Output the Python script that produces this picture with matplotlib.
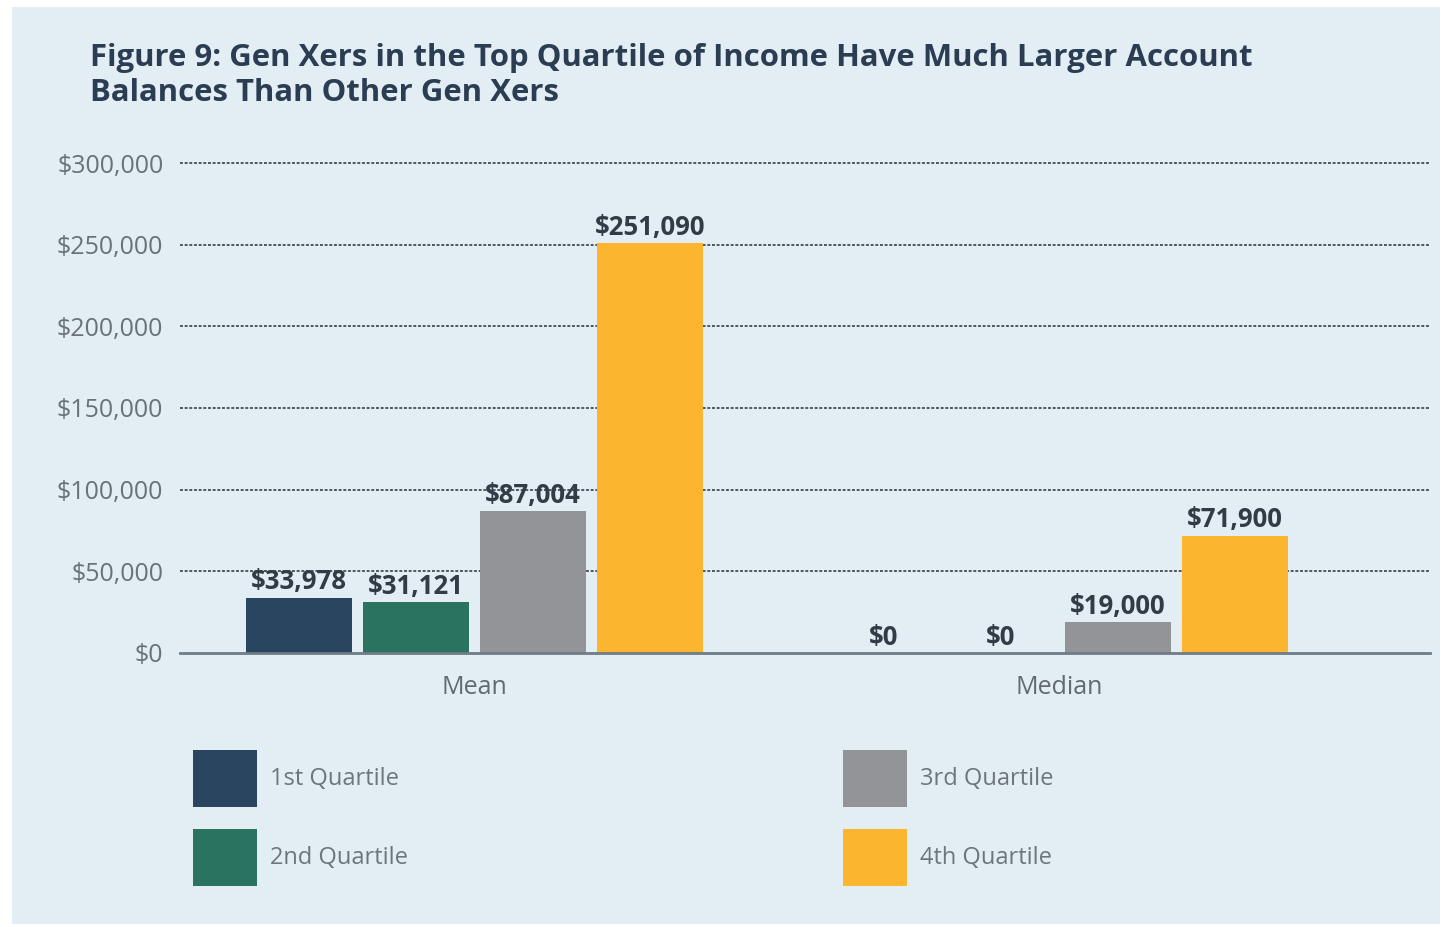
import matplotlib
matplotlib.use("Agg")
import matplotlib.pyplot as plt
from matplotlib.patches import Rectangle
from matplotlib.ticker import FuncFormatter
import numpy as np

# Data
groups = ["Mean", "Median"]
series = ["1st Quartile", "2nd Quartile", "3rd Quartile", "4th Quartile"]
q1 = [33978, 0]
q2 = [31121, 0]
q3 = [87004, 19000]
q4 = [251090, 71900]
y_ticks = [0, 50000, 100000, 150000, 200000, 250000, 300000]

colors = ["#2a4560", "#2a7361", "#929497", "#fbb52f"]
values = [q1, q2, q3, q4]

plt.rcParams["font.family"] = ["Open Sans", "DejaVu Sans"]

W, H = 1445, 927
fig = plt.figure(figsize=(W / 100, H / 100), dpi=100)
fig.patch.set_facecolor("white")

# light panel behind everything
fig.patches.append(Rectangle((12 / W, 3 / H), 1428 / W, 917 / H,
                             transform=fig.transFigure, facecolor="#e3edf4",
                             edgecolor="none", zorder=-5))

ax_left, ax_right = 180, 1430
ax_top, ax_bottom = 163, 653
ax = fig.add_axes([ax_left / W, 1 - ax_bottom / H,
                   (ax_right - ax_left) / W, (ax_bottom - ax_top) / H])
ax.set_facecolor("none")
ax.set_zorder(2)

x = np.arange(len(groups))
width = 0.181
step = 0.2
for i, (vals, col) in enumerate(zip(values, colors)):
    pos = x + (i - 1.5) * step
    bars = ax.bar(pos, vals, width=width, color=col, zorder=3)
    for b, v in zip(bars, vals):
        ax.annotate(f"${v:,.0f}", (b.get_x() + b.get_width() / 2, v),
                    xytext=(0, 6), textcoords="offset points",
                    ha="center", va="baseline", fontsize=18.5,
                    fontweight="bold", color="#323c46", zorder=4)

ax.set_xlim(-0.503, 1.633)
ax.set_ylim(0, 300000)
ax.set_yticks(y_ticks)
ax.yaxis.set_major_formatter(FuncFormatter(lambda v, p: f"${v:,.0f}"))
ax.tick_params(axis="y", length=0, pad=12, labelsize=18, labelcolor="#6a7277")
ax.set_xticks(x)
ax.set_xticklabels(groups)
ax.tick_params(axis="x", length=0, pad=16, labelsize=18, labelcolor="#626a70")

for t in y_ticks[1:]:
    ax.axhline(t, color="#50585f", lw=1.4, ls=(0, (1.5, 0.9)), zorder=1,
               clip_on=False)
for s in ["top", "right", "left"]:
    ax.spines[s].set_visible(False)
ax.spines["bottom"].set_color("#6f7b85")
ax.spines["bottom"].set_linewidth(2)
ax.spines["bottom"].set_zorder(5)

# Title
title_lines = ["Figure 9: Gen Xers in the Top Quartile of Income Have Much Larger Account",
               "Balances Than Other Gen Xers"]
for line, ty in zip(title_lines, [58, 93]):
    fig.text(90 / W, 1 - ty / H, line, ha="left", va="center", fontsize=22.4,
             fontweight="bold", color="#2b3d52")

# Legend
leg_boxes = [(193, 750), (193, 829), (843, 750), (843, 829)]
for name, col, (lx, ly) in zip(series, colors, leg_boxes):
    fig.patches.append(Rectangle((lx / W, 1 - (ly + 57) / H), 64 / W, 57 / H,
                                 transform=fig.transFigure, facecolor=col,
                                 edgecolor="none"))
    fig.text((lx + 77) / W, 1 - (ly + 29) / H, name, ha="left", va="center",
             fontsize=17, color="#6e767c")

fig.savefig("out.png", dpi=100)
